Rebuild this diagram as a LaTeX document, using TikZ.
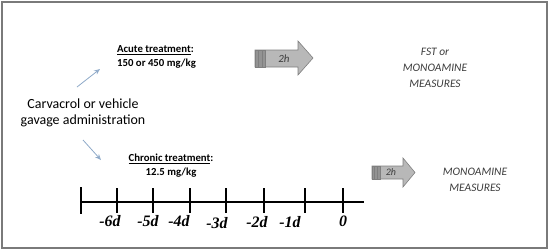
\documentclass[tikz,border=0pt]{standalone}
\usepackage{fontspec}
\setmainfont{Carlito}
\newfontfamily\tlfont{Liberation Serif}
\usetikzlibrary{arrows.meta}
\definecolor{framegray}{HTML}{7A7A7A}
\definecolor{arrowfill}{HTML}{B8B8B8}
\definecolor{arrowline}{HTML}{7F7F7F}
\definecolor{txtgray}{HTML}{3C3C3C}
\definecolor{bluearr}{HTML}{8EA9C8}
\tikzset{
  treat/.style={font=\bfseries\fontsize{10.8}{14}\selectfont, align=center, inner sep=0pt},
  meas/.style={font=\itshape\fontsize{11.5}{16}\selectfont, text=txtgray, align=center, inner sep=0pt},
  daylbl/.style={font=\tlfont\bfseries\itshape\fontsize{16}{16}\selectfont, inner sep=0pt, anchor=base},
  tl/.style={line width=2bp, black},
  blarrow/.style={draw=bluearr, line width=0.8bp, -{Stealth[length=6bp,width=5bp,open]}},
  fatarrow/.style={draw=arrowline, fill=arrowfill, line width=0.6bp, line join=miter},
  stripe/.style={draw=arrowline, fill=arrowfill!80!black, line width=0.5bp}
}
\begin{document}
\begin{tikzpicture}[x=1bp,y=-1bp]
\useasboundingbox (0,0) rectangle (550,250);
\draw[framegray, line width=1.5bp] (2,2) rectangle (547,248);

% texts
\node[font=\fontsize{14}{16}\selectfont, align=center, inner sep=0pt] (carv) at (83,113)
  {Carvacrol or vehicle\\gavage administration};
\node[treat, align=left, anchor=west] (acute) at (117,57)
  {\underline{Acute treatment}:\\150 or 450 mg/kg};
\node[treat] (chronic) at (171,166)
  {\underline{Chronic treatment}:\\12.5 mg/kg};
\node[meas] (fst) at (435,68) {FST or\\MONOAMINE\\MEASURES};
\node[meas] (mono) at (475,180) {MONOAMINE\\MEASURES};

% blue arrows
\coordinate (a1s) at (77,87);
\coordinate (a1e) at (100,69);
\coordinate (a2s) at (83,140);
\coordinate (a2e) at (101,160);
\draw[blarrow] (a1s) -- (a1e);
\draw[blarrow] (a2s) -- (a2e);

% top fat arrow
\draw[fatarrow] (255,50) -- (298,50) -- (298,41) -- (313,58) -- (298,75) -- (298,67) -- (255,67) -- cycle;
\foreach \x in {255,258.5,262} \draw[stripe] (\x,50) rectangle ++(3.5,17);
\node[font=\itshape\fontsize{11}{11}\selectfont, text=txtgray] (h1) at (284,58.5) {2h};

% bottom fat arrow
\draw[fatarrow] (372,166) -- (403,166) -- (403,158) -- (415,172.5) -- (403,187) -- (403,179) -- (372,179) -- cycle;
\foreach \x in {372,374.7,377.4} \draw[stripe] (\x,166) rectangle ++(2.7,13);
\node[font=\itshape\fontsize{10}{10}\selectfont, text=txtgray] (h2) at (391,172.5) {2h};

% timeline
\coordinate (t0) at (81,202);
\coordinate (t1) at (364,202);
\draw[tl] (t0) -- (t1);
\draw[tl] (81,187) -- (81,214);
\foreach \x in {117,153,190,226,264,305,343}
  \draw[tl] (\x,188) -- (\x,213);
\node[daylbl] (d6) at (110,226) {-6d};
\node[daylbl] (d5) at (148,226) {-5d};
\node[daylbl] (d4) at (179,226) {-4d};
\node[daylbl] (d3) at (217,228) {-3d};
\node[daylbl] (d2) at (257,227) {-2d};
\node[daylbl] (d1) at (290,227) {-1d};
\node[daylbl] (d0) at (343,226) {0};
\end{tikzpicture}
\end{document}
